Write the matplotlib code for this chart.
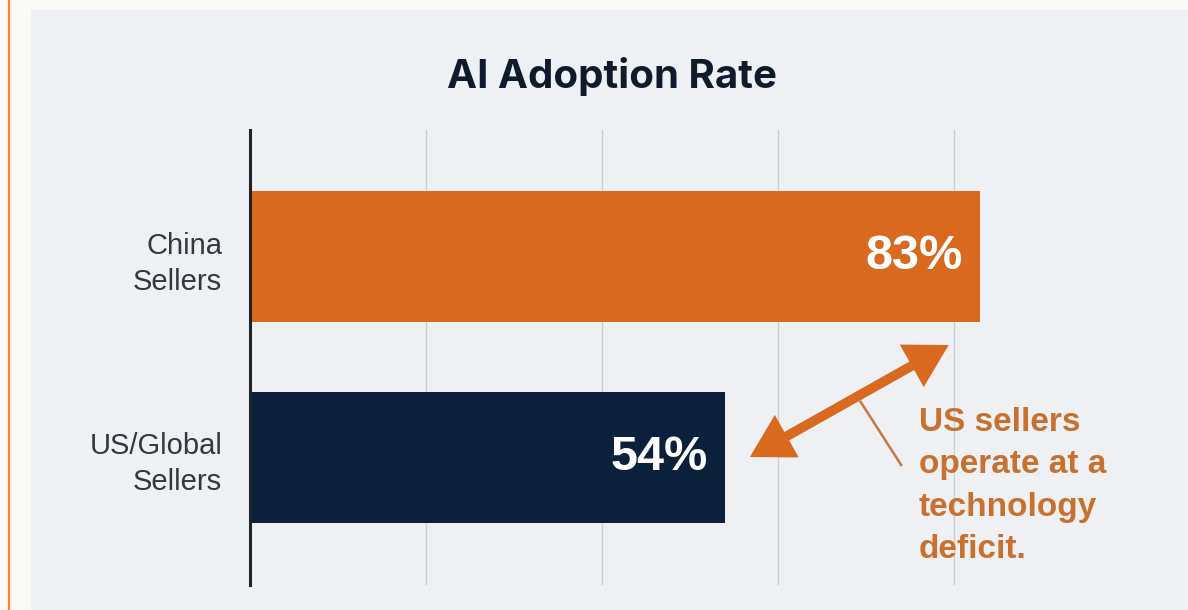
import matplotlib
matplotlib.use("Agg")
import matplotlib.pyplot as plt
from matplotlib.patches import Rectangle, FancyArrowPatch

plt.rcParams['font.family'] = ['Liberation Sans', 'DejaVu Sans']

# data
categories = ["US/Global\nSellers", "China\nSellers"]
values = [54, 83]
bar_colors = ["#0c1f3b", "#d8691f"]
title = "AI Adoption Rate"
note = "US sellers\noperate at a\ntechnology\ndeficit."

W, H = 1188, 610
fig = plt.figure(figsize=(W / 100, H / 100), dpi=100)
fig.patch.set_facecolor("#fcfaf6")

# gray panel + orange edge line
fig.add_artist(Rectangle((31 / W, 0), 1 - 31 / W, 1 - 10 / H, transform=fig.transFigure,
                         facecolor="#eef0f4", edgecolor="none", zorder=0))
fig.add_artist(plt.Line2D([8.5 / W, 8.5 / W], [0, 1], transform=fig.transFigure,
                          color="#f28a2e", lw=1.6, zorder=1))

ax = fig.add_axes([250 / W, 25 / H, 880 / W, 455 / H])
ax.set_facecolor("none")

ypos = [0, 1]
ax.barh(ypos, values, height=0.655, color=bar_colors, zorder=3)

ax.set_xlim(0, 100)
ax.set_ylim(-0.64, 1.635)
ax.set_xticks([20, 40, 60, 80])
ax.xaxis.grid(True, color="#c9cdd4", lw=1.0, zorder=0)
ax.tick_params(axis="x", length=0, labelbottom=False)
ax.set_yticks(ypos)
ax.set_yticklabels(categories, fontsize=21, color="#333740", ha="right",
                   linespacing=1.35)
ax.tick_params(axis="y", length=0, pad=20)

for s in ["top", "right", "bottom"]:
    ax.spines[s].set_visible(False)
ax.spines["left"].set_color("#1f2328")
ax.spines["left"].set_linewidth(2.2)
ax.spines["left"].set_zorder(4)

# value labels inside bars
for y, v in zip(ypos, values):
    ax.text(v - 2, y, f"{v}%", ha="right", va="center", fontsize=35,
            fontweight="bold", color="white", zorder=5)

fig.text(612 / W, 1 - 77 / H, title, ha="center", va="center", fontsize=29,
         fontweight="bold", color="#0f1b2d", family=["Inter", "Liberation Sans"])

# gap arrow and callout
orange = "#d8691f"
gap = FancyArrowPatch((56.8, 0.0), (79.4, 0.56),
                      arrowstyle="<|-|>,head_length=2.0,head_width=1.15",
                      mutation_scale=10, color=orange, lw=7,
                      joinstyle="miter", capstyle="butt",
                      shrinkA=0, shrinkB=0, zorder=6)
ax.add_patch(gap)
ax.plot([69.4, 74.0], [0.275, -0.04], color="#c9773a", lw=1.8, zorder=6)
ax.text(76.0, 0.25, note, ha="left", va="top", fontsize=24, fontweight="bold",
        color="#c8712e", linespacing=1.47, zorder=6)

fig.savefig("out.png", dpi=100, facecolor=fig.get_facecolor())
